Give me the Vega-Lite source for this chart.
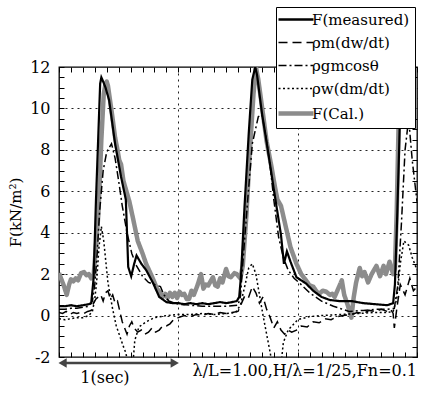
{
"$schema": "https://vega.github.io/schema/vega-lite/v6.json",
"width": 358, "height": 290,
"autosize": {"type": "none"},
"padding": {"left": 59, "top": 67, "right": 4, "bottom": 46},
"background": "white",
"config": {
 "view": {"stroke": "black", "strokeWidth": 1.3},
 "font": "DejaVu Serif",
 "axis": {"labelFont": "DejaVu Serif", "labelFontSize": 16, "labelColor": "black", "tickColor": "black", "domain": false, "titleFont": "DejaVu Serif", "titleFontWeight": "normal", "titleColor": "black", "titleFontSize": 15, "gridColor": "#222", "gridDash": [2, 4], "gridWidth": 1, "labelOverlap": false},
 "legend": {"labelFont": "DejaVu Serif", "labelFontSize": 15, "labelColor": "black"}
},
"datasets": {
 "main": [
  {"series":"F(Cal.)","t":0.00,"v":2.05},{"series":"F(Cal.)","t":0.02,"v":1.75},{"series":"F(Cal.)","t":0.04,"v":1.45},{"series":"F(Cal.)","t":0.065,"v":1.0},{"series":"F(Cal.)","t":0.085,"v":1.5},{"series":"F(Cal.)","t":0.10,"v":1.75},{"series":"F(Cal.)","t":0.12,"v":1.65},{"series":"F(Cal.)","t":0.14,"v":1.8},{"series":"F(Cal.)","t":0.16,"v":1.7},{"series":"F(Cal.)","t":0.185,"v":2.05},{"series":"F(Cal.)","t":0.21,"v":2.1},{"series":"F(Cal.)","t":0.23,"v":1.95},{"series":"F(Cal.)","t":0.25,"v":2.0},{"series":"F(Cal.)","t":0.27,"v":1.8},{"series":"F(Cal.)","t":0.29,"v":1.9},{"series":"F(Cal.)","t":0.305,"v":3.0},{"series":"F(Cal.)","t":0.33,"v":4.9},{"series":"F(Cal.)","t":0.355,"v":8.5},{"series":"F(Cal.)","t":0.375,"v":10.7},{"series":"F(Cal.)","t":0.39,"v":11.2},{"series":"F(Cal.)","t":0.40,"v":11.3},{"series":"F(Cal.)","t":0.41,"v":11.1},{"series":"F(Cal.)","t":0.44,"v":9.9},{"series":"F(Cal.)","t":0.47,"v":8.6},{"series":"F(Cal.)","t":0.49,"v":8.0},{"series":"F(Cal.)","t":0.505,"v":7.5},{"series":"F(Cal.)","t":0.52,"v":7.3},{"series":"F(Cal.)","t":0.54,"v":6.5},{"series":"F(Cal.)","t":0.57,"v":5.9},{"series":"F(Cal.)","t":0.59,"v":5.5},{"series":"F(Cal.)","t":0.62,"v":4.7},{"series":"F(Cal.)","t":0.66,"v":3.6},{"series":"F(Cal.)","t":0.70,"v":3.0},{"series":"F(Cal.)","t":0.73,"v":2.5},{"series":"F(Cal.)","t":0.77,"v":2.0},{"series":"F(Cal.)","t":0.80,"v":1.6},{"series":"F(Cal.)","t":0.82,"v":1.3},{"series":"F(Cal.)","t":0.85,"v":1.1},{"series":"F(Cal.)","t":0.87,"v":0.9},{"series":"F(Cal.)","t":0.89,"v":1.05},{"series":"F(Cal.)","t":0.91,"v":0.85},{"series":"F(Cal.)","t":0.93,"v":1.1},{"series":"F(Cal.)","t":0.95,"v":0.9},{"series":"F(Cal.)","t":0.97,"v":1.1},{"series":"F(Cal.)","t":0.99,"v":0.85},{"series":"F(Cal.)","t":1.01,"v":1.15},{"series":"F(Cal.)","t":1.03,"v":1.0},{"series":"F(Cal.)","t":1.05,"v":1.05},{"series":"F(Cal.)","t":1.07,"v":0.8},{"series":"F(Cal.)","t":1.09,"v":0.8},{"series":"F(Cal.)","t":1.11,"v":1.2},{"series":"F(Cal.)","t":1.13,"v":1.0},{"series":"F(Cal.)","t":1.16,"v":1.45},{"series":"F(Cal.)","t":1.19,"v":2.0},{"series":"F(Cal.)","t":1.21,"v":1.3},{"series":"F(Cal.)","t":1.23,"v":1.5},{"series":"F(Cal.)","t":1.25,"v":1.45},{"series":"F(Cal.)","t":1.27,"v":1.65},{"series":"F(Cal.)","t":1.29,"v":1.85},{"series":"F(Cal.)","t":1.31,"v":1.45},{"series":"F(Cal.)","t":1.33,"v":1.4},{"series":"F(Cal.)","t":1.35,"v":1.8},{"series":"F(Cal.)","t":1.37,"v":1.6},{"series":"F(Cal.)","t":1.40,"v":2.25},{"series":"F(Cal.)","t":1.42,"v":1.9},{"series":"F(Cal.)","t":1.44,"v":1.85},{"series":"F(Cal.)","t":1.47,"v":2.05},{"series":"F(Cal.)","t":1.49,"v":2.0},{"series":"F(Cal.)","t":1.52,"v":1.8},{"series":"F(Cal.)","t":1.54,"v":2.4},{"series":"F(Cal.)","t":1.57,"v":4.8},{"series":"F(Cal.)","t":1.60,"v":8.0},{"series":"F(Cal.)","t":1.63,"v":10.7},{"series":"F(Cal.)","t":1.65,"v":12.0},{"series":"F(Cal.)","t":1.67,"v":11.4},{"series":"F(Cal.)","t":1.71,"v":9.7},{"series":"F(Cal.)","t":1.74,"v":8.4},{"series":"F(Cal.)","t":1.78,"v":7.2},{"series":"F(Cal.)","t":1.81,"v":6.2},{"series":"F(Cal.)","t":1.83,"v":5.6},{"series":"F(Cal.)","t":1.86,"v":5.3},{"series":"F(Cal.)","t":1.90,"v":4.3},{"series":"F(Cal.)","t":1.94,"v":3.3},{"series":"F(Cal.)","t":1.99,"v":2.5},{"series":"F(Cal.)","t":2.03,"v":2.0},{"series":"F(Cal.)","t":2.07,"v":1.7},{"series":"F(Cal.)","t":2.10,"v":1.45},{"series":"F(Cal.)","t":2.13,"v":1.4},{"series":"F(Cal.)","t":2.16,"v":1.15},{"series":"F(Cal.)","t":2.18,"v":1.05},{"series":"F(Cal.)","t":2.21,"v":1.2},{"series":"F(Cal.)","t":2.24,"v":1.15},{"series":"F(Cal.)","t":2.27,"v":1.0},{"series":"F(Cal.)","t":2.29,"v":1.05},{"series":"F(Cal.)","t":2.31,"v":0.9},{"series":"F(Cal.)","t":2.34,"v":1.3},{"series":"F(Cal.)","t":2.37,"v":1.7},{"series":"F(Cal.)","t":2.39,"v":1.0},{"series":"F(Cal.)","t":2.42,"v":0.5},{"series":"F(Cal.)","t":2.45,"v":-0.1},{"series":"F(Cal.)","t":2.47,"v":0.9},{"series":"F(Cal.)","t":2.49,"v":1.6},{"series":"F(Cal.)","t":2.52,"v":2.3},{"series":"F(Cal.)","t":2.54,"v":1.9},{"series":"F(Cal.)","t":2.56,"v":2.1},{"series":"F(Cal.)","t":2.59,"v":1.6},{"series":"F(Cal.)","t":2.62,"v":2.0},{"series":"F(Cal.)","t":2.64,"v":2.2},{"series":"F(Cal.)","t":2.66,"v":2.4},{"series":"F(Cal.)","t":2.69,"v":1.9},{"series":"F(Cal.)","t":2.72,"v":2.4},{"series":"F(Cal.)","t":2.74,"v":2.0},{"series":"F(Cal.)","t":2.77,"v":2.6},{"series":"F(Cal.)","t":2.80,"v":2.0},{"series":"F(Cal.)","t":2.815,"v":2.3},{"series":"F(Cal.)","t":2.83,"v":5.0},{"series":"F(Cal.)","t":2.845,"v":9.0},{"series":"F(Cal.)","t":2.86,"v":12.5},{"series":"F(Cal.)","t":2.88,"v":14},{"series":"F(Cal.)","t":2.92,"v":14},{"series":"F(Cal.)","t":2.96,"v":12},{"series":"F(Cal.)","t":3.0,"v":10},

  {"series":"F(measured)","t":0.00,"v":0.45},{"series":"F(measured)","t":0.05,"v":0.45},{"series":"F(measured)","t":0.10,"v":0.5},{"series":"F(measured)","t":0.15,"v":0.45},{"series":"F(measured)","t":0.20,"v":0.5},{"series":"F(measured)","t":0.25,"v":0.55},{"series":"F(measured)","t":0.27,"v":0.6},{"series":"F(measured)","t":0.28,"v":1.2},{"series":"F(measured)","t":0.29,"v":1.8},{"series":"F(measured)","t":0.31,"v":5.6},{"series":"F(measured)","t":0.33,"v":8.8},{"series":"F(measured)","t":0.345,"v":11.2},{"series":"F(measured)","t":0.355,"v":11.5},{"series":"F(measured)","t":0.37,"v":11.3},{"series":"F(measured)","t":0.39,"v":11.0},{"series":"F(measured)","t":0.42,"v":10.4},{"series":"F(measured)","t":0.47,"v":8.3},{"series":"F(measured)","t":0.52,"v":6.7},{"series":"F(measured)","t":0.56,"v":5.6},{"series":"F(measured)","t":0.57,"v":4.0},{"series":"F(measured)","t":0.58,"v":2.35},{"series":"F(measured)","t":0.605,"v":1.9},{"series":"F(measured)","t":0.63,"v":2.5},{"series":"F(measured)","t":0.65,"v":2.9},{"series":"F(measured)","t":0.69,"v":2.5},{"series":"F(measured)","t":0.73,"v":2.2},{"series":"F(measured)","t":0.79,"v":1.55},{"series":"F(measured)","t":0.84,"v":0.9},{"series":"F(measured)","t":0.90,"v":0.65},{"series":"F(measured)","t":0.95,"v":0.6},{"series":"F(measured)","t":1.0,"v":0.6},{"series":"F(measured)","t":1.05,"v":0.55},{"series":"F(measured)","t":1.1,"v":0.6},{"series":"F(measured)","t":1.15,"v":0.55},{"series":"F(measured)","t":1.2,"v":0.6},{"series":"F(measured)","t":1.25,"v":0.55},{"series":"F(measured)","t":1.3,"v":0.6},{"series":"F(measured)","t":1.35,"v":0.65},{"series":"F(measured)","t":1.4,"v":0.6},{"series":"F(measured)","t":1.45,"v":0.65},{"series":"F(measured)","t":1.49,"v":0.7},{"series":"F(measured)","t":1.51,"v":0.9},{"series":"F(measured)","t":1.525,"v":1.9},{"series":"F(measured)","t":1.555,"v":5.3},{"series":"F(measured)","t":1.59,"v":8.8},{"series":"F(measured)","t":1.62,"v":11.4},{"series":"F(measured)","t":1.645,"v":12.0},{"series":"F(measured)","t":1.66,"v":11.6},{"series":"F(measured)","t":1.70,"v":9.8},{"series":"F(measured)","t":1.75,"v":8.0},{"series":"F(measured)","t":1.80,"v":6.1},{"series":"F(measured)","t":1.86,"v":3.9},{"series":"F(measured)","t":1.885,"v":2.5},{"series":"F(measured)","t":1.91,"v":3.1},{"series":"F(measured)","t":1.94,"v":2.6},{"series":"F(measured)","t":1.99,"v":1.85},{"series":"F(measured)","t":2.07,"v":1.55},{"series":"F(measured)","t":2.13,"v":1.2},{"series":"F(measured)","t":2.2,"v":0.9},{"series":"F(measured)","t":2.27,"v":0.75},{"series":"F(measured)","t":2.35,"v":0.7},{"series":"F(measured)","t":2.45,"v":0.7},{"series":"F(measured)","t":2.55,"v":0.6},{"series":"F(measured)","t":2.65,"v":0.55},{"series":"F(measured)","t":2.75,"v":0.5},{"series":"F(measured)","t":2.80,"v":0.6},{"series":"F(measured)","t":2.815,"v":1.5},{"series":"F(measured)","t":2.83,"v":4.0},{"series":"F(measured)","t":2.85,"v":8.0},{"series":"F(measured)","t":2.865,"v":11.5},{"series":"F(measured)","t":2.88,"v":14},{"series":"F(measured)","t":2.93,"v":14},{"series":"F(measured)","t":3.0,"v":12},

  {"series":"ρm(dw/dt)","t":0.00,"v":0.15},{"series":"ρm(dw/dt)","t":0.03,"v":0.1},{"series":"ρm(dw/dt)","t":0.06,"v":0.2},{"series":"ρm(dw/dt)","t":0.09,"v":0.05},{"series":"ρm(dw/dt)","t":0.12,"v":0.15},{"series":"ρm(dw/dt)","t":0.15,"v":0.1},{"series":"ρm(dw/dt)","t":0.18,"v":0.15},{"series":"ρm(dw/dt)","t":0.21,"v":0.1},{"series":"ρm(dw/dt)","t":0.24,"v":0.2},{"series":"ρm(dw/dt)","t":0.27,"v":0.25},{"series":"ρm(dw/dt)","t":0.29,"v":0.6},{"series":"ρm(dw/dt)","t":0.31,"v":0.8},{"series":"ρm(dw/dt)","t":0.33,"v":0.9},{"series":"ρm(dw/dt)","t":0.35,"v":1.0},{"series":"ρm(dw/dt)","t":0.37,"v":0.7},{"series":"ρm(dw/dt)","t":0.39,"v":1.1},{"series":"ρm(dw/dt)","t":0.41,"v":1.2},{"series":"ρm(dw/dt)","t":0.43,"v":0.8},{"series":"ρm(dw/dt)","t":0.45,"v":1.0},{"series":"ρm(dw/dt)","t":0.47,"v":0.6},{"series":"ρm(dw/dt)","t":0.49,"v":0.7},{"series":"ρm(dw/dt)","t":0.51,"v":0.2},{"series":"ρm(dw/dt)","t":0.53,"v":-0.3},{"series":"ρm(dw/dt)","t":0.55,"v":-0.6},{"series":"ρm(dw/dt)","t":0.57,"v":-0.9},{"series":"ρm(dw/dt)","t":0.59,"v":-0.5},{"series":"ρm(dw/dt)","t":0.61,"v":-0.3},{"series":"ρm(dw/dt)","t":0.63,"v":-0.6},{"series":"ρm(dw/dt)","t":0.66,"v":-0.8},{"series":"ρm(dw/dt)","t":0.69,"v":-0.7},{"series":"ρm(dw/dt)","t":0.72,"v":-0.9},{"series":"ρm(dw/dt)","t":0.75,"v":-0.8},{"series":"ρm(dw/dt)","t":0.78,"v":-0.6},{"series":"ρm(dw/dt)","t":0.81,"v":-0.8},{"series":"ρm(dw/dt)","t":0.84,"v":-0.7},{"series":"ρm(dw/dt)","t":0.87,"v":-0.5},{"series":"ρm(dw/dt)","t":0.90,"v":-0.5},{"series":"ρm(dw/dt)","t":0.93,"v":-0.4},{"series":"ρm(dw/dt)","t":0.96,"v":-0.2},{"series":"ρm(dw/dt)","t":1.00,"v":-0.1},{"series":"ρm(dw/dt)","t":1.05,"v":0.0},{"series":"ρm(dw/dt)","t":1.10,"v":-0.05},{"series":"ρm(dw/dt)","t":1.15,"v":0.05},{"series":"ρm(dw/dt)","t":1.20,"v":0.0},{"series":"ρm(dw/dt)","t":1.25,"v":0.1},{"series":"ρm(dw/dt)","t":1.30,"v":0.05},{"series":"ρm(dw/dt)","t":1.35,"v":0.15},{"series":"ρm(dw/dt)","t":1.40,"v":0.1},{"series":"ρm(dw/dt)","t":1.45,"v":0.15},{"series":"ρm(dw/dt)","t":1.50,"v":0.2},{"series":"ρm(dw/dt)","t":1.53,"v":0.6},{"series":"ρm(dw/dt)","t":1.56,"v":1.0},{"series":"ρm(dw/dt)","t":1.59,"v":0.9},{"series":"ρm(dw/dt)","t":1.62,"v":1.4},{"series":"ρm(dw/dt)","t":1.65,"v":1.1},{"series":"ρm(dw/dt)","t":1.68,"v":0.6},{"series":"ρm(dw/dt)","t":1.71,"v":0.9},{"series":"ρm(dw/dt)","t":1.74,"v":0.3},{"series":"ρm(dw/dt)","t":1.77,"v":-0.1},{"series":"ρm(dw/dt)","t":1.80,"v":-0.6},{"series":"ρm(dw/dt)","t":1.83,"v":-0.3},{"series":"ρm(dw/dt)","t":1.86,"v":-0.7},{"series":"ρm(dw/dt)","t":1.89,"v":-0.9},{"series":"ρm(dw/dt)","t":1.92,"v":-0.7},{"series":"ρm(dw/dt)","t":1.95,"v":-0.8},{"series":"ρm(dw/dt)","t":1.99,"v":-0.7},{"series":"ρm(dw/dt)","t":2.03,"v":-0.5},{"series":"ρm(dw/dt)","t":2.08,"v":-0.55},{"series":"ρm(dw/dt)","t":2.13,"v":-0.3},{"series":"ρm(dw/dt)","t":2.18,"v":-0.35},{"series":"ρm(dw/dt)","t":2.23,"v":-0.15},{"series":"ρm(dw/dt)","t":2.28,"v":-0.2},{"series":"ρm(dw/dt)","t":2.33,"v":-0.05},{"series":"ρm(dw/dt)","t":2.38,"v":0.0},{"series":"ρm(dw/dt)","t":2.45,"v":0.05},{"series":"ρm(dw/dt)","t":2.50,"v":0.15},{"series":"ρm(dw/dt)","t":2.55,"v":0.1},{"series":"ρm(dw/dt)","t":2.60,"v":0.25},{"series":"ρm(dw/dt)","t":2.65,"v":0.2},{"series":"ρm(dw/dt)","t":2.70,"v":0.3},{"series":"ρm(dw/dt)","t":2.75,"v":0.2},{"series":"ρm(dw/dt)","t":2.78,"v":0.3},{"series":"ρm(dw/dt)","t":2.80,"v":0.1},{"series":"ρm(dw/dt)","t":2.81,"v":-0.6},{"series":"ρm(dw/dt)","t":2.83,"v":0.3},{"series":"ρm(dw/dt)","t":2.86,"v":1.5},{"series":"ρm(dw/dt)","t":2.90,"v":1.0},{"series":"ρm(dw/dt)","t":2.94,"v":1.8},{"series":"ρm(dw/dt)","t":2.97,"v":1.2},{"series":"ρm(dw/dt)","t":3.0,"v":1.4},

  {"series":"ρgmcosθ","t":0.00,"v":0.3},{"series":"ρgmcosθ","t":0.05,"v":0.3},{"series":"ρgmcosθ","t":0.10,"v":0.35},{"series":"ρgmcosθ","t":0.15,"v":0.35},{"series":"ρgmcosθ","t":0.20,"v":0.4},{"series":"ρgmcosθ","t":0.25,"v":0.45},{"series":"ρgmcosθ","t":0.28,"v":0.7},{"series":"ρgmcosθ","t":0.30,"v":1.5},{"series":"ρgmcosθ","t":0.32,"v":3.0},{"series":"ρgmcosθ","t":0.34,"v":5.0},{"series":"ρgmcosθ","t":0.37,"v":7.0},{"series":"ρgmcosθ","t":0.40,"v":7.9},{"series":"ρgmcosθ","t":0.44,"v":8.3},{"series":"ρgmcosθ","t":0.47,"v":7.6},{"series":"ρgmcosθ","t":0.50,"v":6.5},{"series":"ρgmcosθ","t":0.53,"v":5.3},{"series":"ρgmcosθ","t":0.57,"v":4.0},{"series":"ρgmcosθ","t":0.61,"v":3.0},{"series":"ρgmcosθ","t":0.65,"v":2.4},{"series":"ρgmcosθ","t":0.70,"v":1.9},{"series":"ρgmcosθ","t":0.75,"v":1.6},{"series":"ρgmcosθ","t":0.80,"v":1.5},{"series":"ρgmcosθ","t":0.85,"v":1.4},{"series":"ρgmcosθ","t":0.88,"v":1.0},{"series":"ρgmcosθ","t":0.92,"v":0.7},{"series":"ρgmcosθ","t":1.0,"v":0.55},{"series":"ρgmcosθ","t":1.1,"v":0.5},{"series":"ρgmcosθ","t":1.2,"v":0.45},{"series":"ρgmcosθ","t":1.3,"v":0.45},{"series":"ρgmcosθ","t":1.4,"v":0.45},{"series":"ρgmcosθ","t":1.5,"v":0.5},{"series":"ρgmcosθ","t":1.52,"v":0.9},{"series":"ρgmcosθ","t":1.54,"v":2.5},{"series":"ρgmcosθ","t":1.58,"v":5.5},{"series":"ρgmcosθ","t":1.62,"v":8.3},{"series":"ρgmcosθ","t":1.67,"v":9.6},{"series":"ρgmcosθ","t":1.70,"v":9.7},{"series":"ρgmcosθ","t":1.73,"v":8.8},{"series":"ρgmcosθ","t":1.77,"v":7.2},{"series":"ρgmcosθ","t":1.80,"v":5.6},{"series":"ρgmcosθ","t":1.84,"v":3.8},{"series":"ρgmcosθ","t":1.88,"v":2.8},{"series":"ρgmcosθ","t":1.92,"v":2.2},{"series":"ρgmcosθ","t":1.97,"v":1.8},{"series":"ρgmcosθ","t":2.02,"v":1.55},{"series":"ρgmcosθ","t":2.10,"v":1.1},{"series":"ρgmcosθ","t":2.20,"v":0.7},{"series":"ρgmcosθ","t":2.30,"v":0.45},{"series":"ρgmcosθ","t":2.43,"v":0.2},{"series":"ρgmcosθ","t":2.55,"v":0.25},{"series":"ρgmcosθ","t":2.65,"v":0.3},{"series":"ρgmcosθ","t":2.75,"v":0.3},{"series":"ρgmcosθ","t":2.81,"v":0.35},{"series":"ρgmcosθ","t":2.84,"v":1.5},{"series":"ρgmcosθ","t":2.87,"v":4.5},{"series":"ρgmcosθ","t":2.90,"v":8},{"series":"ρgmcosθ","t":2.93,"v":9.5},{"series":"ρgmcosθ","t":2.96,"v":7.5},{"series":"ρgmcosθ","t":3.0,"v":5.5},

  {"series":"ρw(dm/dt)","t":0.00,"v":-0.15},{"series":"ρw(dm/dt)","t":0.05,"v":-0.2},{"series":"ρw(dm/dt)","t":0.10,"v":-0.15},{"series":"ρw(dm/dt)","t":0.15,"v":-0.1},{"series":"ρw(dm/dt)","t":0.20,"v":-0.1},{"series":"ρw(dm/dt)","t":0.25,"v":0.0},{"series":"ρw(dm/dt)","t":0.28,"v":0.2},{"series":"ρw(dm/dt)","t":0.30,"v":0.8},{"series":"ρw(dm/dt)","t":0.315,"v":1.6},{"series":"ρw(dm/dt)","t":0.335,"v":3.3},{"series":"ρw(dm/dt)","t":0.355,"v":4.3},{"series":"ρw(dm/dt)","t":0.375,"v":3.6},{"series":"ρw(dm/dt)","t":0.41,"v":1.6},{"series":"ρw(dm/dt)","t":0.45,"v":0.3},{"series":"ρw(dm/dt)","t":0.48,"v":-0.5},{"series":"ρw(dm/dt)","t":0.51,"v":-1.0},{"series":"ρw(dm/dt)","t":0.54,"v":-1.5},{"series":"ρw(dm/dt)","t":0.56,"v":-1.8},{"series":"ρw(dm/dt)","t":0.58,"v":-2.4},{"series":"ρw(dm/dt)","t":0.60,"v":-3.0},{"series":"ρw(dm/dt)","t":0.62,"v":-2.3},{"series":"ρw(dm/dt)","t":0.635,"v":-1.2},{"series":"ρw(dm/dt)","t":0.67,"v":-0.55},{"series":"ρw(dm/dt)","t":0.73,"v":-0.3},{"series":"ρw(dm/dt)","t":0.80,"v":-0.1},{"series":"ρw(dm/dt)","t":0.90,"v":0.0},{"series":"ρw(dm/dt)","t":1.00,"v":0.05},{"series":"ρw(dm/dt)","t":1.10,"v":0.05},{"series":"ρw(dm/dt)","t":1.20,"v":0.1},{"series":"ρw(dm/dt)","t":1.30,"v":0.05},{"series":"ρw(dm/dt)","t":1.40,"v":0.1},{"series":"ρw(dm/dt)","t":1.48,"v":0.15},{"series":"ρw(dm/dt)","t":1.52,"v":0.5},{"series":"ρw(dm/dt)","t":1.56,"v":1.5},{"series":"ρw(dm/dt)","t":1.59,"v":2.3},{"series":"ρw(dm/dt)","t":1.62,"v":2.5},{"series":"ρw(dm/dt)","t":1.65,"v":2.0},{"series":"ρw(dm/dt)","t":1.68,"v":1.0},{"series":"ρw(dm/dt)","t":1.71,"v":0.0},{"series":"ρw(dm/dt)","t":1.74,"v":-0.9},{"series":"ρw(dm/dt)","t":1.77,"v":-1.8},{"series":"ρw(dm/dt)","t":1.79,"v":-2.5},{"series":"ρw(dm/dt)","t":1.83,"v":-3},{"series":"ρw(dm/dt)","t":1.86,"v":-2.4},{"series":"ρw(dm/dt)","t":1.88,"v":-1.3},{"series":"ρw(dm/dt)","t":1.92,"v":-0.7},{"series":"ρw(dm/dt)","t":1.96,"v":-0.45},{"series":"ρw(dm/dt)","t":2.00,"v":-0.2},{"series":"ρw(dm/dt)","t":2.10,"v":-0.05},{"series":"ρw(dm/dt)","t":2.20,"v":0.0},{"series":"ρw(dm/dt)","t":2.35,"v":0.05},{"series":"ρw(dm/dt)","t":2.50,"v":0.1},{"series":"ρw(dm/dt)","t":2.65,"v":0.15},{"series":"ρw(dm/dt)","t":2.75,"v":0.15},{"series":"ρw(dm/dt)","t":2.80,"v":0.2},{"series":"ρw(dm/dt)","t":2.83,"v":0.8},{"series":"ρw(dm/dt)","t":2.86,"v":2.5},{"series":"ρw(dm/dt)","t":2.89,"v":3.6},{"series":"ρw(dm/dt)","t":2.93,"v":3.4},{"series":"ρw(dm/dt)","t":2.96,"v":2.8},{"series":"ρw(dm/dt)","t":3.0,"v":2.2}
 ],
 "arrow": [{"t0": 0.035, "t1": 0.965, "v": -2.29}],
 "heads": [{"t": 0.03, "v": -2.29, "dir": "left"}, {"t": 0.97, "v": -2.29, "dir": "right"}],
 "note1": [{"t": 0.385, "v": -3.0, "text": "1(sec)"}],
 "note2": [{"t": 3.0, "v": -2.67, "text": "λ/L=1.00,H/λ=1/25,Fn=0.1"}]
},
"layer": [
 {
  "data": {"name": "main"},
  "transform": [{"filter": "datum.series === 'F(Cal.)'"}],
  "mark": {"type": "line", "clip": true, "strokeWidth": 4.5, "strokeJoin": "round"},
  "encoding": {
   "x": {"field": "t", "type": "quantitative", "scale": {"domain": [0, 3], "nice": false, "zero": false},
    "axis": {"orient": "bottom", "title": null, "labels": false, "values": [0,0.1,0.2,0.3,0.4,0.5,0.6,0.7,0.8,0.9,1,1.1,1.2,1.3,1.4,1.5,1.6,1.7,1.8,1.9,2,2.1,2.2,2.3,2.4,2.5,2.6,2.7,2.8,2.9,3], "tickSize": -5, "grid": true, "gridOpacity": {"condition": {"test": "datum.value === 1 || datum.value === 2", "value": 1}, "value": 0}}},
   "y": {"field": "v", "type": "quantitative", "scale": {"domain": [-2, 12], "nice": false, "zero": false},
    "axis": {"orient": "left", "title": "F(kN/m²)", "titlePadding": 6, "values": [-2,-1.5,-1,-0.5,0,0.5,1,1.5,2,2.5,3,3.5,4,4.5,5,5.5,6,6.5,7,7.5,8,8.5,9,9.5,10,10.5,11,11.5,12], "labelExpr": "datum.value % 2 === 0 ? '' + datum.value : ''", "tickSize": -5, "labelPadding": 14, "grid": true, "gridOpacity": {"condition": {"test": "datum.value % 2 === 0 && datum.value > -2 && datum.value < 12", "value": 1}, "value": 0}}},
   "color": {"field": "series", "type": "nominal", "scale": {"domain": ["F(measured)", "ρm(dw/dt)", "ρgmcosθ", "ρw(dm/dt)", "F(Cal.)"], "range": ["black", "black", "black", "black", "#8c8c8c"]},
    "legend": {"title": null, "orient": "none", "legendX": 217, "legendY": -60, "padding": 5, "strokeColor": "black", "fillColor": "white", "cornerRadius": 0, "symbolType": "M-1,0L2.5,0", "symbolSize": 400, "labelOffset": 16, "rowPadding": 7, "labelFontSize": 15,
     "encode": {"symbols": {"update": {"strokeWidth": {"signal": "datum.value === 'F(Cal.)' ? 4.5 : datum.value === 'F(measured)' ? 2.4 : 1.4"}, "fill": {"value": "transparent"}}}}}},
   "strokeDash": {"field": "series", "type": "nominal", "scale": {"domain": ["F(measured)", "ρm(dw/dt)", "ρgmcosθ", "ρw(dm/dt)", "F(Cal.)"], "range": [[1, 0], [9, 5], [8, 3, 2, 3], [2, 2.5], [1, 0]]},
    "legend": {"title": null, "orient": "none", "legendX": 217, "legendY": -60, "padding": 5, "strokeColor": "black", "fillColor": "white", "cornerRadius": 0, "symbolType": "M-1,0L2.5,0", "symbolSize": 400, "labelOffset": 16, "rowPadding": 7, "labelFontSize": 15,
     "encode": {"symbols": {"update": {"strokeWidth": {"signal": "datum.value === 'F(Cal.)' ? 4.5 : datum.value === 'F(measured)' ? 2.4 : 1.4"}, "fill": {"value": "transparent"}}}}}}
  }
 },
 {
  "data": {"name": "main"},
  "transform": [{"filter": "datum.series === 'F(measured)'"}],
  "mark": {"type": "line", "clip": true, "strokeWidth": 2.2},
  "encoding": {
   "x": {"field": "t", "type": "quantitative", "axis": null},
   "y": {"field": "v", "type": "quantitative", "axis": null},
   "color": {"field": "series", "type": "nominal"},
   "strokeDash": {"field": "series", "type": "nominal"}
  }
 },
 {
  "data": {"name": "main"},
  "transform": [{"filter": "datum.series !== 'F(measured)' && datum.series !== 'F(Cal.)'"}],
  "mark": {"type": "line", "clip": true, "strokeWidth": 1.5},
  "encoding": {
   "x": {"field": "t", "type": "quantitative", "axis": null},
   "y": {"field": "v", "type": "quantitative", "axis": null},
   "color": {"field": "series", "type": "nominal"},
   "strokeDash": {"field": "series", "type": "nominal"}
  }
 },
 {
  "data": {"name": "main"},
  "mark": {"type": "point", "opacity": 0},
  "encoding": {
   "x": {"field": "t", "type": "quantitative", "axis": {"orient": "top", "title": null, "labels": false, "grid": false, "tickSize": -5, "values": [0,0.1,0.2,0.3,0.4,0.5,0.6,0.7,0.8,0.9,1,1.1,1.2,1.3,1.4,1.5,1.6,1.7,1.8,1.9,2,2.1,2.2,2.3,2.4,2.5,2.6,2.7,2.8,2.9,3]}},
   "y": {"field": "v", "type": "quantitative", "axis": {"orient": "right", "title": null, "labels": false, "grid": false, "tickSize": -5, "values": [-2,-1.5,-1,-0.5,0,0.5,1,1.5,2,2.5,3,3.5,4,4.5,5,5.5,6,6.5,7,7.5,8,8.5,9,9.5,10,10.5,11,11.5,12]}}
  }
 },
 {
  "data": {"name": "arrow"},
  "mark": {"type": "rule", "color": "#444", "strokeWidth": 2.5, "clip": false},
  "encoding": {
   "x": {"field": "t0", "type": "quantitative", "axis": null},
   "x2": {"field": "t1"},
   "y": {"field": "v", "type": "quantitative", "axis": null}
  }
 },
 {
  "data": {"name": "heads"},
  "mark": {"type": "point", "filled": true, "color": "#444", "size": 90, "opacity": 1, "clip": false},
  "encoding": {
   "x": {"field": "t", "type": "quantitative", "axis": null},
   "y": {"field": "v", "type": "quantitative", "axis": null},
   "shape": {"field": "dir", "type": "nominal", "scale": {"domain": ["left", "right"], "range": ["triangle-left", "triangle-right"]}, "legend": null}
  }
 },
 {
  "data": {"name": "note1"},
  "mark": {"type": "text", "font": "DejaVu Serif", "fontSize": 16, "color": "black", "baseline": "middle", "align": "center", "clip": false},
  "encoding": {
   "x": {"field": "t", "type": "quantitative", "axis": null},
   "y": {"field": "v", "type": "quantitative", "axis": null},
   "text": {"field": "text"}
  }
 },
 {
  "data": {"name": "note2"},
  "mark": {"type": "text", "font": "DejaVu Serif", "fontSize": 16, "color": "black", "baseline": "middle", "align": "right", "clip": false},
  "encoding": {
   "x": {"field": "t", "type": "quantitative", "axis": null},
   "y": {"field": "v", "type": "quantitative", "axis": null},
   "text": {"field": "text"}
  }
 }
],
"resolve": {"axis": {"x": "independent", "y": "independent"}}
}
